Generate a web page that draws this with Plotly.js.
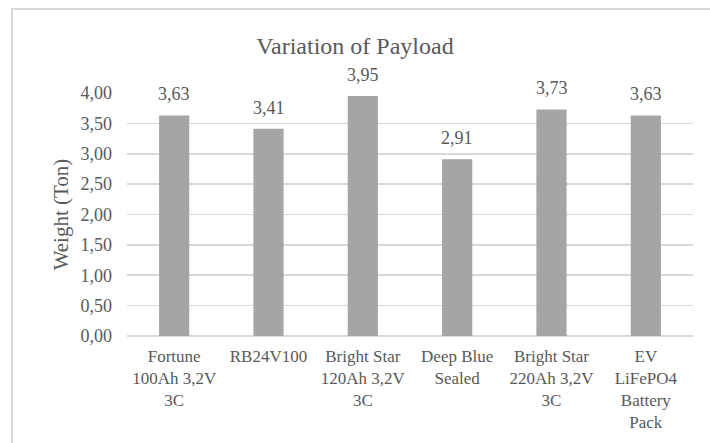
<!DOCTYPE html>
<html>
<head>
<meta charset="utf-8">
<script src="https://cdn.plot.ly/plotly-3.0.1.min.js"></script>
<style>
  html, body { margin: 0; padding: 0; background: #fff; }
  #wrap { position: relative; width: 710px; height: 443px; overflow: hidden; }
  #frame { position: absolute; left: 11px; top: 8px; width: 720px; height: 460px;
           border: 2px solid #d9d9d9; box-sizing: border-box; pointer-events: none; }
  #chart { position: absolute; left: 0; top: 0; width: 710px; height: 443px; }
</style>
</head>
<body>
<div id="wrap">
  <div id="chart"></div>
  <div id="frame"></div>
</div>
<script>
const categories = [
  "Fortune<br>100Ah 3,2V<br>3C",
  "RB24V100",
  "Bright Star<br>120Ah 3,2V<br>3C",
  "Deep Blue<br>Sealed",
  "Bright Star<br>220Ah 3,2V<br>3C",
  "EV<br>LiFePO4<br>Battery<br>Pack"
];
const payload = [3.63, 3.41, 3.95, 2.91, 3.73, 3.63];
const yTicks = [0, 0.5, 1, 1.5, 2, 2.5, 3, 3.5, 4];

const font = "Liberation Serif, Times New Roman, serif";
const txt = "#595959";

const labelAnnotations = categories.map((c, i) => ({
  x: c, y: payload[i], xref: "x", yref: "y",
  text: payload[i].toFixed(2).replace(".", ","),
  showarrow: false, xanchor: "center", yanchor: "bottom",
  yshift: 9,
  font: { family: font, size: 18, color: txt }
}));

Plotly.newPlot("chart", [{
  type: "bar",
  x: categories,
  y: payload,
  marker: { color: "#a5a5a5" },
  cliponaxis: false,
  hoverinfo: "skip"
}], {
  width: 710, height: 443,
  margin: { l: 127, r: 17, t: 93, b: 107 },
  paper_bgcolor: "#fff",
  plot_bgcolor: "#fff",
  separators: ",.",
  bargap: 0.68,
  showlegend: false,
  font: { family: font, color: txt },
  annotations: labelAnnotations,
  title: {
    text: "Variation of Payload",
    font: { family: font, size: 24, color: txt },
    x: 0.5, xanchor: "center",
    y: 1 - 46 / 443, yanchor: "middle"
  },
  xaxis: {
    type: "category",
    tickfont: { family: font, size: 17, color: txt },
    showgrid: false,
    showline: false,
    zeroline: false,
    ticks: "",
    ticklabelstandoff: 8
  },
  yaxis: {
    range: [0, 4],
    tickvals: yTicks,
    tickformat: ".2f",
    tickfont: { family: font, size: 18, color: txt },
    showgrid: true,
    gridcolor: "#d9d9d9",
    gridwidth: 1.7,
    zeroline: true,
    zerolinecolor: "#d9d9d9",
    zerolinewidth: 1.7,
    showline: false,
    ticks: "",
    ticklabelstandoff: 14,
    title: {
      text: "Weight (Ton)",
      font: { family: font, size: 21, color: txt },
      standoff: 6
    }
  }
}, { displayModeBar: false, staticPlot: true });
</script>
</body>
</html>
